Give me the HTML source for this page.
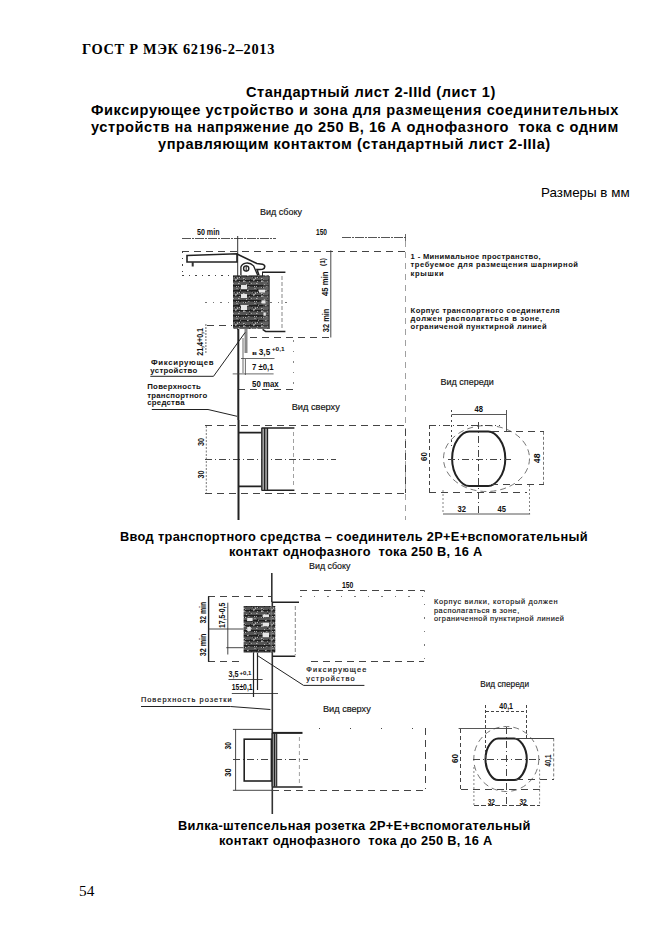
<!DOCTYPE html>
<html><head><meta charset="utf-8">
<style>
html,body{margin:0;padding:0;background:#fff;}
body{width:661px;height:935px;position:relative;overflow:hidden;}
.t{position:absolute;white-space:pre;color:#000;line-height:1;}
.serif{font-family:"Liberation Serif",serif;font-weight:bold;}
.sans{font-family:"Liberation Sans",sans-serif;}
.b{font-weight:bold;}
svg{position:absolute;left:0;top:0;}
svg text{font-family:"Liberation Sans",sans-serif;fill:#111;}
.lbl text,text.lbl{font-weight:bold;}
.lbl text.vtt,text.vtt{font-weight:normal;stroke:#111;stroke-width:0.15;}
.note text{font-size:7.6px;font-weight:bold;fill:#111;}
.lbl2 text{font-size:7.4px;font-weight:normal;stroke:#111;stroke-width:0.2;}
.lbl2b text{font-weight:bold;font-size:7.8px;stroke-width:0;}
.note2 text{font-size:7.4px;font-weight:normal;stroke:#111;stroke-width:0.15;}
.dash path,path.dash{fill:none;stroke:#444;stroke-width:1;stroke-dasharray:7,5;shape-rendering:crispEdges;}
.dim{fill:none;stroke:#555;stroke-width:1;stroke-dasharray:9,1,2,1;shape-rendering:crispEdges;}
.dashdot{fill:none;stroke:#444;stroke-width:1;stroke-dasharray:7,3,1,3;shape-rendering:crispEdges;}
.dash2,.dash2 path{fill:none;stroke:#777;stroke-width:0.7;stroke-dasharray:4,3;}
</style></head><body>
<div class="t serif" style="left:82px;top:42px;font-size:14.4px;letter-spacing:0.68px;">ГОСТ Р МЭК 62196-2–2013</div>
<div class="t sans b" style="left:246px;top:84.8px;font-size:14.6px;letter-spacing:0.52px;">Стандартный лист 2-IIId (лист 1)</div>
<div class="t sans b" style="left:91px;top:102.6px;font-size:14.6px;letter-spacing:0.59px;">Фиксирующее устройство и зона для размещения соединительных</div>
<div class="t sans b" style="left:91px;top:120.3px;font-size:14.6px;letter-spacing:0.54px;">устройств на напряжение до 250 В, 16 А однофазного  тока с одним</div>
<div class="t sans b" style="left:158px;top:137.3px;font-size:14.6px;letter-spacing:0.54px;">управляющим контактом (стандартный лист 2-IIIa)</div>
<div class="t sans" style="left:541px;top:185.5px;font-size:13.4px;">Размеры в мм</div>
<div class="t sans b" style="left:120px;top:530.5px;font-size:12.8px;letter-spacing:0.33px;">Ввод транспортного средства – соединитель 2Р+Е+вспомогательный</div>
<div class="t sans b" style="left:229px;top:545.5px;font-size:12.8px;letter-spacing:0.3px;">контакт однофазного  тока 250 В, 16 А</div>
<div class="t sans b" style="left:178px;top:819.5px;font-size:12.8px;letter-spacing:0.33px;">Вилка-штепсельная розетка 2Р+Е+вспомогательный</div>
<div class="t sans b" style="left:219px;top:834.5px;font-size:12.8px;letter-spacing:0.29px;">контакт однофазного  тока до 250 В, 16 А</div>
<div class="t" style="font-family:'Liberation Serif',serif;left:79px;top:883px;font-size:15.3px;">54</div>

<svg width="661" height="935" viewBox="0 0 661 935">
<defs>
<pattern id="hatch" width="18" height="15" patternUnits="userSpaceOnUse"><rect width="18" height="15" fill="#555"/><rect x="0" y="0" width="18" height="1.5" fill="#1c1c1c"/><rect x="0" y="5" width="18" height="1.5" fill="#1c1c1c"/><rect x="0" y="10" width="18" height="1.5" fill="#1c1c1c"/><rect x="10" y="2" width="1" height="1" fill="#b5b5b5"/><rect x="2" y="13" width="1" height="1" fill="#666"/><rect x="11" y="9" width="1" height="1" fill="#8a8a8a"/><rect x="1" y="1" width="2" height="1" fill="#b5b5b5"/><rect x="2" y="3" width="2" height="1" fill="#8a8a8a"/><rect x="1" y="13" width="1" height="1" fill="#666"/><rect x="7" y="10" width="1" height="1" fill="#666"/><rect x="12" y="0" width="1" height="1" fill="#a0a0a0"/><rect x="17" y="13" width="1.5" height="1" fill="#a0a0a0"/><rect x="13" y="2" width="1" height="1" fill="#666"/><rect x="9" y="8" width="1" height="1" fill="#a0a0a0"/><rect x="6" y="5" width="1" height="1" fill="#8a8a8a"/><rect x="1" y="9" width="2" height="1" fill="#a0a0a0"/><rect x="17" y="6" width="2" height="1" fill="#777"/><rect x="14" y="5" width="1" height="1" fill="#777"/><rect x="5" y="11" width="1" height="1" fill="#a0a0a0"/><rect x="9" y="8" width="1.5" height="1" fill="#b5b5b5"/><rect x="14" y="4" width="1" height="1" fill="#666"/><rect x="3" y="8" width="1" height="1" fill="#b5b5b5"/><rect x="10" y="2" width="2" height="1" fill="#b5b5b5"/><rect x="1" y="10" width="1.5" height="1" fill="#8a8a8a"/><rect x="10" y="11" width="2" height="1" fill="#777"/><rect x="14" y="1" width="1.5" height="1" fill="#8a8a8a"/><rect x="15" y="11" width="1" height="1" fill="#8a8a8a"/><rect x="9" y="10" width="2" height="1" fill="#666"/><rect x="9" y="11" width="1.5" height="1" fill="#b5b5b5"/><rect x="0" y="7" width="1" height="1" fill="#777"/><rect x="3" y="7" width="1" height="1" fill="#8a8a8a"/><rect x="9" y="2" width="2" height="1" fill="#a0a0a0"/><rect x="12" y="14" width="1" height="1" fill="#b5b5b5"/><rect x="5" y="7" width="1.5" height="1" fill="#b5b5b5"/><rect x="4" y="13" width="1.5" height="1" fill="#b5b5b5"/><rect x="13" y="5" width="1" height="1" fill="#b5b5b5"/><rect x="4" y="1" width="1" height="1" fill="#a0a0a0"/><rect x="7" y="10" width="1" height="1" fill="#222"/><rect x="7" y="0" width="1" height="1" fill="#222"/><rect x="15" y="13" width="1" height="1" fill="#222"/><rect x="5" y="4" width="1" height="1" fill="#222"/><rect x="9" y="0" width="1" height="1" fill="#222"/><rect x="4" y="6" width="1" height="1" fill="#222"/><rect x="17" y="5" width="1" height="1" fill="#222"/><rect x="10" y="2" width="1" height="1" fill="#222"/><rect x="16" y="9" width="1" height="1" fill="#222"/><rect x="1" y="7" width="1" height="1" fill="#222"/><rect x="17" y="6" width="1" height="1" fill="#222"/><rect x="12" y="6" width="1" height="1" fill="#222"/><rect x="12" y="1" width="1" height="1" fill="#222"/><rect x="15" y="10" width="1" height="1" fill="#222"/><rect x="12" y="0" width="1" height="1" fill="#222"/><rect x="6" y="1" width="1" height="1" fill="#222"/><rect x="6" y="7" width="1" height="1" fill="#222"/><rect x="5" y="1" width="1" height="1" fill="#222"/><rect x="10" y="9" width="1" height="1" fill="#222"/><rect x="1" y="1" width="1" height="1" fill="#222"/></pattern>
</defs>
<g id="d1">
<!-- texts side view -->
<g class="lbl">
<text class="vtt" x="260" y="215" textLength="42" lengthAdjust="spacingAndGlyphs" font-size="8.3">Вид сбоку</text>
<text x="197" y="234.8" textLength="22.5" lengthAdjust="spacingAndGlyphs" font-size="8.8">50 min</text>
<text x="316" y="235" textLength="11" lengthAdjust="spacingAndGlyphs" font-size="8.8">150</text>
</g>
<g class="note">
<text x="410.6" y="258.8" textLength="130" lengthAdjust="spacing">1 - Минимальное пространство,</text>
<text x="410.6" y="267.2" textLength="167.4" lengthAdjust="spacing">требуемое для размещения шарнирной</text>
<text x="410.6" y="276.3" textLength="33" lengthAdjust="spacing">крышки</text>
<text x="410.6" y="312.6" textLength="149.2" lengthAdjust="spacing">Корпус транспортного соединителя</text>
<text x="410.6" y="321" textLength="131.4" lengthAdjust="spacing">должен располагаться в зоне,</text>
<text x="410.6" y="329.3" textLength="136" lengthAdjust="spacing">ограниченой пунктирной линией</text>
</g>
<!-- dimension lines -->
<g class="dash">
<path d="M182,251 H406"/>
<path d="M405.5,241 V520" style="stroke:#888;stroke-dasharray:6,5;stroke-width:0.8"/>
<path d="M182.5,251 V273" style="stroke-dasharray:1.5,5"/>
<path d="M182,275 H232" style="stroke-dasharray:1.5,5"/>
<path d="M207,325.5 H232 M250,337.5 H332"/>
<path d="M293.5,340 V390" style="stroke:#888;stroke-dasharray:1.5,9;"/>
<path d="M205,302.5 H233 M270,302.5 H288" style="stroke:#777;stroke-dasharray:1.5,6;"/>
<path d="M238,389 H293.5"/>
</g>
<path d="M182,238.5 H276 M342,237.5 H405.5" class="dim"/>
<path d="M405.5,234 V241" stroke="#444" stroke-width="0.8"/>
<!-- vertical reference line -->
<path d="M237.7,236 V330" stroke="#333" stroke-width="1" fill="none"/>
<path d="M238.3,329 V420" stroke="#222" stroke-width="2" fill="none"/>
<!-- latch arm -->
<path d="M187,255.5 L237,253.8 L237,262 L187,262 Z" fill="#fff" stroke="#222" stroke-width="1.6"/>
<path d="M192.7,262 V266.5" stroke="#333" stroke-width="2"/>
<!-- hook -->
<path d="M237,254 L256.8,263.5 L262.5,264.3 C265.5,265 265.5,268.5 262.5,269.3 L257,269.6 L259,275.4" fill="none" stroke="#222" stroke-width="1.6"/>
<path d="M240.9,275.4 V267 C242,263 249,261 253.6,265.9 L257.8,275.4" fill="none" stroke="#222" stroke-width="1.3"/>
<circle cx="246.2" cy="268.5" r="2.6" fill="none" stroke="#222" stroke-width="1.4"/>
<path d="M246.2,265.5 V271.5" stroke="#222" stroke-width="1"/>
<!-- connector block -->
<rect x="233" y="275.4" width="36" height="53.5" fill="url(#hatch)"/>
<rect x="263" y="275.4" width="6" height="53.5" fill="#777" opacity="0.35"/>
<path d="M269.2,276 V329 M262.5,272.2 V276" stroke="#222" stroke-width="1" fill="none"/>
<g fill="#e6e6e6">
<rect x="241" y="285" width="6" height="4"/>
<rect x="241" y="294" width="6" height="4"/>
<rect x="241" y="305" width="6" height="5"/>
<rect x="259" y="289.7" width="6" height="2.8"/>
<rect x="261.5" y="300.3" width="4" height="3.2"/>
<rect x="263.5" y="312.5" width="2.3" height="3.2"/>
</g>
<!-- housing -->
<path d="M262,272.2 H285.4 M262.6,329.4 L265.6,331.4 H285.4" fill="none" stroke="#222" stroke-width="1.5"/>
<path d="M282,276 V330" style="fill:none;stroke:#555;stroke-width:0.7;stroke-dasharray:4,2"/>
<!-- vertical dim 45/32 -->
<path d="M330.8,250.3 V337.5" stroke="#333" stroke-width="0.9" fill="none"/>
<g class="lbl">
<text transform="translate(328.3,296) rotate(-90)" textLength="24.6" lengthAdjust="spacingAndGlyphs" font-size="8.8">45 min</text>
<text transform="translate(324.6,266) rotate(-90)" textLength="8" lengthAdjust="spacingAndGlyphs" font-size="7">(1)</text>
<text transform="translate(328.7,332.2) rotate(-90)" textLength="23.6" lengthAdjust="spacingAndGlyphs" font-size="8.8">32 min</text>
</g>
<!-- pin -->
<rect x="244.5" y="329" width="3" height="24" fill="#888"/>
<!-- left dim 21.4 -->
<path d="M205.9,324 V353" stroke="#444" stroke-width="0.8" fill="none" stroke-dasharray="2,1"/>
<g class="lbl">
<text transform="translate(202.9,355.8) rotate(-90)" textLength="27.8" lengthAdjust="spacingAndGlyphs" font-size="8.8">21,4+0,1</text>
<text x="258.8" y="355" textLength="11.4" lengthAdjust="spacingAndGlyphs" font-size="8.5">3,5</text>
<text x="271.7" y="351.3" textLength="12.9" lengthAdjust="spacingAndGlyphs" font-size="6">+0,1</text>
<text x="252" y="354.5" font-size="6" textLength="5" lengthAdjust="spacingAndGlyphs">в</text>
<text x="252" y="370.3" textLength="21.6" lengthAdjust="spacingAndGlyphs" font-size="8.8">7 ±0,1</text>
<text x="252" y="387.2" textLength="26.7" lengthAdjust="spacingAndGlyphs" font-size="8.8">50 max</text>
</g>
<path d="M241,358.5 H274.5 M232.7,373.9 H273.6 M245.4,359 V375 M243,338 V373" stroke="#444" stroke-width="0.8" fill="none"/>
<!-- leaders -->
<path d="M150.3,376.3 H213.5 L245.2,332.4" stroke="#222" stroke-width="1" fill="none"/>
<path d="M151.8,409.5 H208 L237.1,416.3" stroke="#222" stroke-width="1" fill="none"/>
<g class="lbl2 lbl2b">
<text x="150.9" y="364.5" textLength="62.6" lengthAdjust="spacing">Фиксирующев</text>
<text x="150.3" y="372.7" textLength="46.9" lengthAdjust="spacing">устройство</text>
<text x="147.2" y="389" textLength="53.6" lengthAdjust="spacing">Поверхность</text>
<text x="147.2" y="397.6" textLength="60" lengthAdjust="spacing">транспортного</text>
<text x="147.2" y="405.4" textLength="37.3" lengthAdjust="spacing">средства</text>
</g>
<g class="lbl">
<text class="vtt" x="291.7" y="409.9" textLength="48.1" lengthAdjust="spacingAndGlyphs" font-size="8.3">Вид сверху</text>
</g>
</g>
<g id="d1b">
<!-- top view drawing 1 -->
<g class="dash">
<path d="M205.4,425.8 H405.8 V492.8 M205.4,493.2 H405.8"/>
</g>
<path d="M205.4,459.1 H336" class="dashdot"/>
<path d="M206.3,426 V493" stroke="#555" stroke-width="0.8" stroke-dasharray="2,1.5" fill="none"/>
<g class="lbl">
<text transform="translate(203.6,446) rotate(-90)" textLength="8.2" lengthAdjust="spacingAndGlyphs" font-size="8.8">30</text>
<text transform="translate(203.6,478.5) rotate(-90)" textLength="8.1" lengthAdjust="spacingAndGlyphs" font-size="8.8">30</text>
</g>
<path d="M238.5,420 V520" stroke="#222" stroke-width="2" fill="none"/>
<path d="M238.5,432.6 H261.3 M238.5,486.3 H261.3" stroke="#222" stroke-width="1.8" fill="none"/>
<rect x="261.5" y="428" width="6.5" height="62.3" fill="#aaa"/>
<path d="M261.8,428 V490.3 M264.6,428 V490.3 M267.5,428 V490.3 M261.5,428 H268 M261.5,490.3 H268" stroke="#222" stroke-width="1.3" fill="none"/>
<path d="M268,428 H294.4 M268,490.3 H294.4" stroke="#222" stroke-width="1.5" fill="none"/>
<path d="M293.5,432 V488" class="dash2"/>
<!-- front view drawing 1 -->
<g class="lbl">
<text class="vtt" x="440.6" y="384.5" textLength="53.2" lengthAdjust="spacingAndGlyphs" font-size="8.3">Вид спереди</text>
<text x="474.5" y="412.4" textLength="8.5" lengthAdjust="spacingAndGlyphs" font-size="8.8">48</text>
<text transform="translate(427.3,461) rotate(-90)" textLength="8.8" lengthAdjust="spacingAndGlyphs" font-size="8.8">60</text>
<text transform="translate(539.8,463.2) rotate(-90)" textLength="9.7" lengthAdjust="spacingAndGlyphs" font-size="8.8">48</text>
<text x="457.5" y="511.6" textLength="8.5" lengthAdjust="spacingAndGlyphs" font-size="8.8">32</text>
<text x="497.5" y="511.6" textLength="8.5" lengthAdjust="spacingAndGlyphs" font-size="8.8">45</text>
</g>
<ellipse cx="486.5" cy="458.5" rx="43" ry="33" fill="none" stroke="#666" stroke-width="0.9" stroke-dasharray="6,4"/>
<path d="M469.20,431.40 H488.20 C495.38,431.40 505.30,442.32 505.30,458.70 C505.30,475.08 495.38,486.00 488.20,486.00 H469.20 C462.02,486.00 452.10,475.08 452.10,458.70 C452.10,442.32 462.02,431.40 469.20,431.40 Z" fill="none" stroke="#222" stroke-width="2"/>
<path d="M451.5,414.5 H506 M506.5,410 V431.7" stroke="#444" stroke-width="0.9" fill="none"/>
<path d="M451.5,410 V446" class="dash" style="stroke-dasharray:2,3"/>
<path d="M429.5,425.2 V492.2" class="dash" style="stroke-dasharray:4,3"/>
<path d="M429,425.5 H500" class="dashdot"/>
<g class="dash">
<path d="M492,431.8 H544.4 M490.8,484.4 H543.5 M429,492.6 H526.5"/>
</g>
<path d="M543.5,431.8 V484.4" stroke="#555" stroke-width="0.8" stroke-dasharray="3,2" fill="none"/>
<path d="M448,459 H511.7 M478.7,422 V514" class="dashdot"/>
<path d="M443,490 V514 M529.5,485 V514" stroke="#666" stroke-width="0.8" stroke-dasharray="2,2" fill="none"/>
<path d="M443,514 H530.1" stroke="#444" stroke-width="0.9" fill="none"/>
</g>
<g id="d2">
<g class="lbl">
<text class="vtt" x="309" y="568.5" textLength="41.5" lengthAdjust="spacingAndGlyphs" font-size="8.3">Вид сбоку</text>
<text x="342" y="587.8" textLength="11.4" lengthAdjust="spacingAndGlyphs" font-size="8.8">150</text>
</g>
<g class="note note2">
<text x="434" y="604.2" textLength="123.5" lengthAdjust="spacing">Корпус вилки, который должен</text>
<text x="434" y="612.7" textLength="85.2" lengthAdjust="spacing">располагаться в зоне,</text>
<text x="434" y="620.5" textLength="130" lengthAdjust="spacing">ограниченной пунктирной линией</text>
</g>
<g class="dash">
<path d="M299.7,590.3 H424.4 M208,596.4 H272 M310.6,661.2 H424.4 M208,661.7 H242.6"/>
<path d="M300,596.3 H424.4 M424.4,590 V661.5" style="stroke-dasharray:1.5,12;stroke:#777"/>
</g>
<!-- surface line -->
<path d="M271.8,573 V602 M272.3,602 V814" stroke="#333" stroke-width="1.6" fill="none"/>
<!-- housing -->
<path d="M272,602.3 H299 M272,656.3 H295.3" stroke="#222" stroke-width="1.5" fill="none"/>
<path d="M295.3,606 V655" style="fill:none;stroke:#555;stroke-width:0.7;stroke-dasharray:4,2"/>
<!-- block -->
<rect x="243.6" y="606" width="31.7" height="46.6" fill="url(#hatch)"/>
<g fill="#e6e6e6">
<rect x="247.2" y="618" width="5.4" height="3"/>
<rect x="247.2" y="627" width="3.6" height="4"/>
<rect x="262.6" y="614.5" width="6.4" height="2.5"/>
<rect x="262.6" y="622.7" width="6.4" height="3.6"/>
<rect x="262.6" y="632.7" width="6.4" height="4.5"/>
</g>
<rect x="270.5" y="606" width="1.5" height="46.6" fill="#888" opacity="0.6"/>
<!-- dims left -->
<path d="M208.6,596.5 V661.7" stroke="#222" stroke-width="1.4" fill="none"/>
<path d="M208.2,629 H243.6 M227.8,602.7 V654.5 M226.3,647.7 H243.6" stroke="#333" stroke-width="0.9" fill="none"/>
<g class="lbl">
<text transform="translate(206.3,623.6) rotate(-90)" textLength="21.8" lengthAdjust="spacingAndGlyphs" font-size="8.8">32 min</text>
<text transform="translate(206.3,656.3) rotate(-90)" textLength="22.7" lengthAdjust="spacingAndGlyphs" font-size="8.8">32 min</text>
<text transform="translate(224.5,628) rotate(-90)" textLength="25.3" lengthAdjust="spacingAndGlyphs" font-size="8.8">17,5-0,5</text>
</g>
<!-- pins -->
<path d="M253.5,652.6 V697 M257.5,652.6 V690" stroke="#222" stroke-width="1.2" fill="none"/>
<!-- leader -->
<path d="M257.2,655.4 L303.6,685.4 H364.4" stroke="#222" stroke-width="1" fill="none"/>
<g class="lbl2">
<text x="306.3" y="671.8" textLength="60" lengthAdjust="spacing">Фиксирующее</text>
<text x="306.3" y="681.2" textLength="48.2" lengthAdjust="spacing">устройство</text>
<text x="140.9" y="701.8" textLength="90.8" lengthAdjust="spacing">Поверхность розетки</text>
</g>
<g class="lbl">
<text x="228.5" y="677" textLength="10" lengthAdjust="spacingAndGlyphs" font-size="8.8">3,5</text>
<text x="239.5" y="674.5" textLength="12" lengthAdjust="spacingAndGlyphs" font-size="6">+0,1</text>
<text x="231.8" y="689.9" textLength="20.8" lengthAdjust="spacingAndGlyphs" font-size="8.8">15±0,1</text>
</g>
<path d="M228.5,679.5 H262.6 M231.8,693.5 H278" stroke="#222" stroke-width="0.8" fill="none"/>
<path d="M141,706.5 H230.5 L270.4,709.5" stroke="#222" stroke-width="1" fill="none"/>
<g class="lbl">
<text class="vtt" x="323" y="711.7" textLength="47.8" lengthAdjust="spacingAndGlyphs" font-size="8.3">Вид сверху</text>
</g>
</g>
<g id="d2b">
<!-- top view drawing 2 -->
<path d="M232.9,729.4 H272.2 M232.9,790.3 H272.2 M235.6,729.4 V790.3" stroke="#333" stroke-width="0.9" fill="none"/>
<g class="dash">
<path d="M425,728.4 V789 M272,790.3 H425"/>
<path d="M319,728.4 H425" style="stroke-dasharray:1,30;"/>
</g>
<path d="M233,759.6 H307.7" class="dashdot"/>
<g class="lbl">
<text transform="translate(231.3,749.5) rotate(-90)" textLength="7.5" lengthAdjust="spacingAndGlyphs" font-size="8.8">30</text>
<text transform="translate(231.3,776.7) rotate(-90)" textLength="8.3" lengthAdjust="spacingAndGlyphs" font-size="8.8">30</text>
</g>
<rect x="244.2" y="739.2" width="27.2" height="41.8" fill="none" stroke="#222" stroke-width="1.6"/>
<rect x="272.2" y="732.9" width="4.5" height="53.7" fill="#999"/>
<path d="M272.2,732.9 V786.6 M274.5,732.9 V786.6 M276.7,732.9 V786.6" stroke="#222" stroke-width="1.1" fill="none"/>
<path d="M272.2,732.9 H302.5" stroke="#222" stroke-width="2" fill="none"/>
<path d="M272.2,787 H302.5" stroke="#222" stroke-width="1.5" fill="none"/>
<path d="M299.4,737 V785" class="dash2"/>
<!-- front view drawing 2 -->
<g class="lbl">
<text class="vtt" x="480.2" y="687" textLength="48.8" lengthAdjust="spacingAndGlyphs" font-size="8.3">Вид спереди</text>
<text x="499.3" y="709.2" textLength="13.7" lengthAdjust="spacingAndGlyphs" font-size="8.8">40,1</text>
<text transform="translate(458,763) rotate(-90)" textLength="9" lengthAdjust="spacingAndGlyphs" font-size="8.8">60</text>
<text transform="translate(551,766.4) rotate(-90)" textLength="11.7" lengthAdjust="spacingAndGlyphs" font-size="8.8">40,1</text>
<text x="487.7" y="804.5" textLength="7.3" lengthAdjust="spacingAndGlyphs" font-size="8.8">32</text>
<text x="519.4" y="804.5" textLength="7.4" lengthAdjust="spacingAndGlyphs" font-size="8.8">32</text>
</g>
<circle cx="506.3" cy="759" r="32.5" fill="none" stroke="#666" stroke-width="0.9" stroke-dasharray="6,4"/>
<path d="M498.15,738.40 H514.15 C519.46,738.40 526.80,746.74 526.80,759.25 C526.80,771.76 519.46,780.10 514.15,780.10 H498.15 C492.84,780.10 485.50,771.76 485.50,759.25 C485.50,746.74 492.84,738.40 498.15,738.40 Z" fill="none" stroke="#222" stroke-width="2"/>
<path d="M485.5,711.5 H526.8 M485.5,705 V759 M526.5,705 V740" class="dash" style="stroke-dasharray:3,2"/>
<path d="M460.5,728.5 V789.7" class="dash" style="stroke-dasharray:4,3"/>
<path d="M458.6,728.5 H512" stroke="#444" stroke-width="0.9" fill="none"/>
<g class="dash">
<path d="M516,779.5 H554.4 M460.5,789.5 H539.6"/>
<path d="M515,738.5 H554.4" style="stroke-dasharray:none"/>
</g>
<path d="M553.7,738.4 V779" stroke="#555" stroke-width="0.8" stroke-dasharray="3,2" fill="none"/>
<path d="M472.8,759 H539.6 M506.3,727 V805.6" class="dashdot"/>
<path d="M473.9,767 V805.6 M539.6,769.6 V805.6" stroke="#666" stroke-width="0.8" stroke-dasharray="2,2" fill="none"/>
<path d="M473.9,805.5 H539.6" class="dash" style="stroke-dasharray:5,2"/>
</g>

</svg>
</body></html>
